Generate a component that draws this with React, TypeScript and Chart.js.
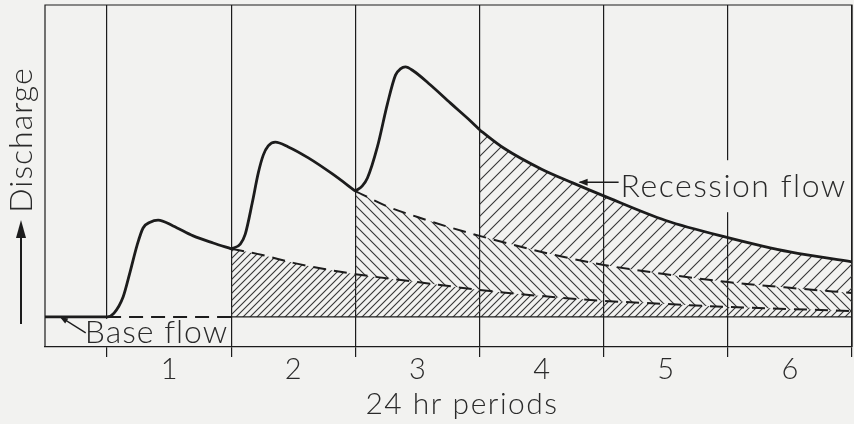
import React, { useEffect, useRef } from 'react';
import { Chart, registerables } from 'chart.js';

Chart.register(...registerables);

// ---- data ----
const periodLabels = ['1', '2', '3', '4', '5', '6'];
const dayTicks = [0, 1, 2, 3, 4, 5, 6];
const baseFlow = 8.8;
const baseDays = [0, 1, 2, 3, 4, 5, 6];

const rise1Days = [-0.5, 0, 0.056, 0.129, 0.185, 0.242, 0.29, 0.347, 0.411, 0.532, 0.694, 0.855, 1.0];
const rise1Flow = [8.8, 8.8, 9.9, 14.6, 21.9, 29.8, 34.8, 36.5, 37.1, 35.4, 32.5, 30.4, 28.7];

const rise2Days = [1.0, 1.073, 1.113, 1.169, 1.218, 1.258, 1.298, 1.355, 1.46, 1.621, 1.815, 2.0];
const rise2Flow = [28.7, 30.1, 33.0, 42.1, 50.9, 56.1, 58.8, 59.9, 58.5, 55.3, 50.6, 45.6];

const rise3Days = [2.0, 2.056, 2.097, 2.177, 2.258, 2.323, 2.363, 2.403, 2.468, 2.605, 2.766, 2.927, 3.0];
const rise3Flow = [45.6, 47.1, 49.4, 58.5, 71.1, 79.5, 81.3, 81.9, 80.7, 76.6, 71.3, 66.1, 63.5];

const recessDays = [3, 3.194, 3.5, 3.75, 4, 4.5, 5, 5.5, 6];
const recessFlow = [63.5, 58.2, 52.0, 48.0, 44.2, 37.0, 32.0, 27.8, 24.9];

const dashed1Days = [1, 1.25, 1.5, 1.75, 2, 2.5, 3, 3.5, 4, 4.5, 5, 5.5, 6];
const dashed1Flow = [28.7, 26.9, 24.6, 22.8, 21.3, 19.0, 16.7, 14.9, 13.5, 12.6, 11.7, 11.1, 10.5];

const dashed2Days = [2, 2.25, 2.5, 2.75, 3, 3.5, 4, 4.5, 5, 5.5, 6];
const dashed2Flow = [45.6, 41.2, 38.0, 35.1, 32.5, 27.8, 24.0, 21.3, 19.0, 17.3, 15.8];

const yAxisLabel = 'Discharge';
const xAxisLabel = '24 hr periods';
const recessionLabel = 'Recession flow';
const baseLabel = 'Base flow';

// ---- style ----
const BG = '#f2f2f0';
const INK = '#1c1c1c';
const TEXT = '#2a2a2a';
const HATCH = '#353535';
const FONT = 'Lato, "DejaVu Sans", sans-serif';

const pts = (xs: number[], ys: number[]) => xs.map((x, i) => ({ x, y: ys[i] }));

function hatch(size: number, dir: 1 | -1) {
  const c = document.createElement('canvas');
  c.width = size;
  c.height = size;
  const g = c.getContext('2d')!;
  g.strokeStyle = HATCH;
  g.lineWidth = 1.1;
  g.beginPath();
  if (dir === 1) {
    g.moveTo(0, size); g.lineTo(size, 0);
    g.moveTo(-size / 2, size / 2); g.lineTo(size / 2, -size / 2);
    g.moveTo(size / 2, size * 1.5); g.lineTo(size * 1.5, size / 2);
  } else {
    g.moveTo(0, 0); g.lineTo(size, size);
    g.moveTo(-size / 2, size / 2); g.lineTo(size / 2, size * 1.5);
    g.moveTo(size / 2, -size / 2); g.lineTo(size * 1.5, size / 2);
  }
  g.stroke();
  return g.createPattern(c, 'repeat')!;
}

function arrowHead(ctx: CanvasRenderingContext2D, tx: number, ty: number, angle: number, len: number, half: number) {
  ctx.save();
  ctx.translate(tx, ty);
  ctx.rotate(angle);
  ctx.beginPath();
  ctx.moveTo(0, 0);
  ctx.lineTo(-len, -half);
  ctx.lineTo(-len, half);
  ctx.closePath();
  ctx.fill();
  ctx.restore();
}

const annotations = {
  id: 'annotations',
  beforeDraw(chart: any) {
    const { ctx, width, height } = chart;
    ctx.save();
    ctx.fillStyle = BG;
    ctx.fillRect(0, 0, width, height);
    ctx.restore();
  },
  beforeDatasetsDraw(chart: any) {
    const { ctx, chartArea: a, scales } = chart;
    const x = scales.x;
    const y = scales.y;
    ctx.save();
    // frame
    ctx.strokeStyle = INK;
    ctx.lineWidth = 1.2;
    ctx.beginPath();
    ctx.moveTo(a.left, a.bottom);
    ctx.lineTo(a.left, a.top);
    ctx.lineTo(a.right, a.top);
    ctx.lineTo(a.right, a.bottom);
    ctx.stroke();

    ctx.fillStyle = TEXT;
    ctx.font = `300 32px ${FONT}`;
    ctx.textBaseline = 'alphabetic';
    (ctx as any).letterSpacing = '1.5px';

    // Recession flow label
    const rTipX = x.getPixelForValue(3.79);
    const rTipY = y.getPixelForValue(47.6);
    const rTextX = rTipX + 43;
    const rBase = rTipY + 13;
    const rw = ctx.measureText(recessionLabel).width;
    ctx.fillStyle = BG;
    ctx.fillRect(rTextX - 4, rTipY - 24, rw + 8, 52);
    ctx.fillStyle = TEXT;
    ctx.textAlign = 'left';
    ctx.fillText(recessionLabel, rTextX, rBase);
    ctx.strokeStyle = INK;
    ctx.lineWidth = 1.4;
    ctx.beginPath();
    ctx.moveTo(rTextX - 2, rTipY - 2);
    ctx.lineTo(rTipX + 2, rTipY - 2);
    ctx.stroke();
    ctx.fillStyle = INK;
    arrowHead(ctx, rTipX + 1, rTipY - 2, Math.PI, 9, 3.5);

    // Base flow label
    (ctx as any).letterSpacing = '1px';
    const bTipX = x.getPixelForValue(-0.38);
    const bTipY = y.getPixelForValue(baseFlow);
    const bTextX = x.getPixelForValue(-0.18);
    const bBase = a.bottom - 4;
    const bw = ctx.measureText(baseLabel).width;
    ctx.fillStyle = BG;
    ctx.fillRect(bTextX - 4, bTipY + 2, bw + 3, a.bottom - bTipY - 3);
    ctx.fillStyle = TEXT;
    ctx.fillText(baseLabel, bTextX, bBase);
    ctx.strokeStyle = INK;
    ctx.lineWidth = 1.3;
    ctx.beginPath();
    ctx.moveTo(bTextX + 1, bTipY + 16);
    ctx.lineTo(bTipX + 2, bTipY + 1);
    ctx.stroke();
    ctx.fillStyle = INK;
    arrowHead(ctx, bTipX, bTipY, Math.atan2(-15, -(bTextX - bTipX)), 8, 3);

    // Y label + arrow
    ctx.save();
    ctx.translate(a.left - 13, 140);
    ctx.rotate(-Math.PI / 2);
    ctx.textAlign = 'center';
    ctx.fillStyle = TEXT;
    ctx.font = `300 32px ${FONT}`;
    (ctx as any).letterSpacing = '1px';
    ctx.fillText(yAxisLabel, 0, 0);
    ctx.restore();
    ctx.strokeStyle = INK;
    ctx.lineWidth = 2;
    ctx.beginPath();
    ctx.moveTo(21, 324);
    ctx.lineTo(21, 234);
    ctx.stroke();
    ctx.fillStyle = INK;
    arrowHead(ctx, 21, 220, -Math.PI / 2, 18, 5);

    // X label
    ctx.fillStyle = TEXT;
    ctx.font = `300 30px ${FONT}`;
    (ctx as any).letterSpacing = '1.5px';
    ctx.textAlign = 'center';
    ctx.fillText(xAxisLabel, 462, 414);
    ctx.restore();
  },
};

export default function App() {
  const ref = useRef<HTMLCanvasElement>(null);
  useEffect(() => {
    const canvas = ref.current!;
    const pA = hatch(7, 1);
    const pB = hatch(10, -1);
    const pC = hatch(12, 1);
    const solid = { borderColor: INK, borderWidth: 2.8, pointRadius: 0, fill: false, cubicInterpolationMode: 'monotone' as const };
    const chart = new Chart(canvas, {
      type: 'line',
      data: {
        datasets: [
          {
            data: pts(baseDays, baseDays.map(() => baseFlow)),
            borderColor: INK,
            borderWidth: 1.2,
            pointRadius: 0,
            fill: false,
            segment: {
              borderDash: (c: any) => (c.p1.parsed.x <= 1 ? [14, 8] : undefined),
              borderWidth: (c: any) => (c.p1.parsed.x <= 1 ? 2 : undefined),
            },
          },
          {
            data: pts(dashed1Days, dashed1Flow),
            borderColor: INK,
            borderWidth: 2,
            borderDash: [13, 8],
            pointRadius: 0,
            cubicInterpolationMode: 'monotone',
            fill: 0,
            backgroundColor: pA,
          },
          {
            data: pts(dashed2Days, dashed2Flow),
            borderColor: INK,
            borderWidth: 2,
            borderDash: [13, 8],
            pointRadius: 0,
            cubicInterpolationMode: 'monotone',
            fill: 1,
            backgroundColor: pB,
          },
          { ...solid, data: pts(recessDays, recessFlow), fill: 2, backgroundColor: pC },
          { ...solid, data: pts(rise1Days, rise1Flow) },
          { ...solid, data: pts(rise2Days, rise2Flow) },
          { ...solid, data: pts(rise3Days, rise3Flow) },
        ] as any,
      },
      options: {
        animation: false,
        responsive: true,
        maintainAspectRatio: false,
        events: [],
        layout: { padding: { left: 45, right: 2, top: 5, bottom: 0 } },
        plugins: { legend: { display: false }, tooltip: { enabled: false } },
        scales: {
          x: {
            type: 'linear',
            min: -0.5,
            max: 6,
            afterBuildTicks: (s: any) => {
              s.ticks = dayTicks.map((v) => ({ value: v }));
            },
            afterFit: (s: any) => {
              s.height = 77;
            },
            ticks: {
              callback: (_v: any, i: number) => periodLabels[i] ?? '',
              labelOffset: 62,
              padding: -5,
              autoSkip: false,
              maxRotation: 0,
              color: TEXT,
              font: { family: FONT, size: 29, weight: '300' },
            },
            grid: { color: INK, lineWidth: 1.2, tickLength: 10 },
            border: { color: INK, width: 1.2 },
          },
          y: { type: 'linear', min: 0, max: 100, display: false },
        },
      } as any,
      plugins: [annotations],
    });
    return () => chart.destroy();
  }, []);
  return (
    <div style={{ position: 'fixed', left: 0, top: 0, width: 854, height: 424 }}>
      <canvas ref={ref} />
    </div>
  );
}
